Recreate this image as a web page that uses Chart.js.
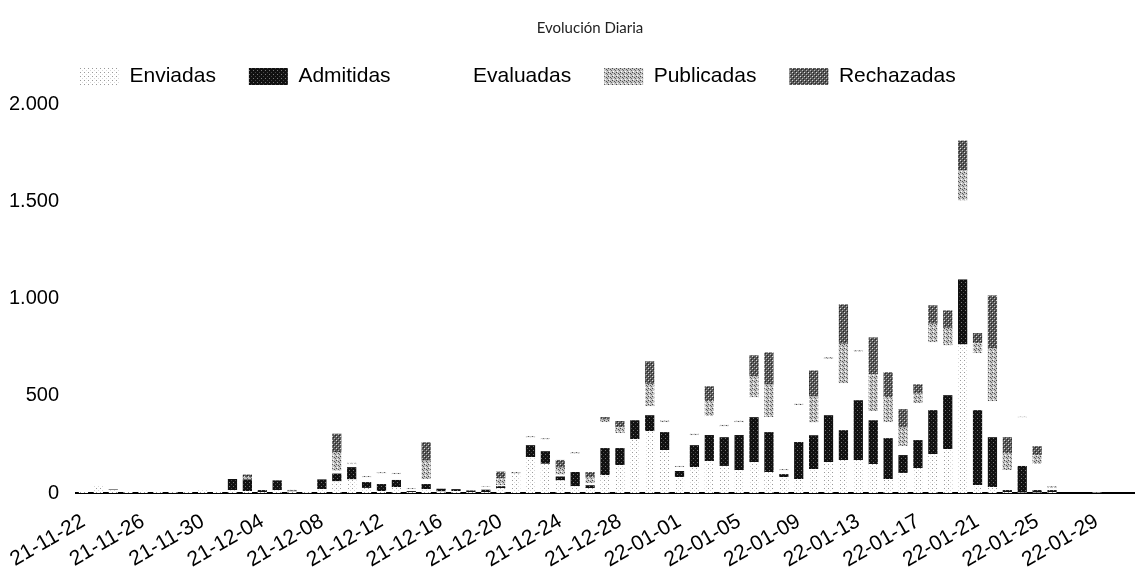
<!DOCTYPE html>
<html lang="es">
<head>
  <meta charset="UTF-8">
  <title>Evolución Diaria</title>
  <script src="https://cdn.jsdelivr.net/npm/chart.js"></script>
  <style>
    body { margin: 0; background: #fff; }
    .chart-box { width: 1138px; height: 569px; }
  </style>
</head>
<body>
  <div class="chart-box">
    <canvas id="evolucion"></canvas>
  </div>

  <script>
    // fechas (aa-mm-dd), del 21-11-22 al 22-01-31
    const dias = [
      '21-11-22','21-11-23','21-11-24','21-11-25','21-11-26','21-11-27','21-11-28','21-11-29','21-11-30',
      '21-12-01','21-12-02','21-12-03','21-12-04','21-12-05','21-12-06','21-12-07','21-12-08','21-12-09','21-12-10',
      '21-12-11','21-12-12','21-12-13','21-12-14','21-12-15','21-12-16','21-12-17','21-12-18','21-12-19','21-12-20',
      '21-12-21','21-12-22','21-12-23','21-12-24','21-12-25','21-12-26','21-12-27','21-12-28','21-12-29','21-12-30','21-12-31',
      '22-01-01','22-01-02','22-01-03','22-01-04','22-01-05','22-01-06','22-01-07','22-01-08','22-01-09','22-01-10',
      '22-01-11','22-01-12','22-01-13','22-01-14','22-01-15','22-01-16','22-01-17','22-01-18','22-01-19','22-01-20',
      '22-01-21','22-01-22','22-01-23','22-01-24','22-01-25','22-01-26','22-01-27','22-01-28','22-01-29','22-01-30','22-01-31'
    ];

    const enviadas = [
      10, 40, 15, 10, 12, 8, 5, 10, 15, 10,
      15, 10, 5, 15, 8, 5, 20, 60, 70, 26,
      10, 30, 5, 20, 8, 10, 5, 5, 25, 100,
      185, 150, 65, 35, 25, 92, 144, 277, 318, 221,
      82, 133, 164, 139, 118, 159, 108, 82, 72, 123,
      159, 169, 169, 149, 72, 103, 128, 200, 226, 764,
      41, 31, 5, 3, 3, 5, 0, 0, 3, 0, 0
    ];
    const admitidas = [
      0, 0, 3, 0, 0, 0, 0, 0, 0, 0,
      57, 60, 10, 50, 5, 0, 50, 40, 63, 30,
      36, 37, 5, 26, 14, 10, 8, 12, 10, 0,
      61, 65, 20, 73, 15, 139, 87, 97, 82, 92,
      31, 113, 134, 148, 180, 231, 205, 15, 190, 174,
      241, 154, 308, 225, 210, 92, 144, 226, 277, 334,
      385, 256, 10, 136, 12, 10, 0, 0, 0, 0, 0
    ];
    const evaluadas = [
      0, 0, 0, 0, 0, 0, 0, 0, 0, 0,
      0, 0, 0, 0, 0, 0, 0, 15, 15, 25,
      55, 30, 10, 25, 0, 0, 0, 15, 5, 0,
      40, 60, 10, 95, 10, 133, 77, 0, 46, 51,
      20, 51, 97, 56, 66, 102, 77, 20, 190, 66,
      290, 241, 249, 47, 82, 46, 190, 349, 256, 406,
      293, 185, 103, 250, 134, 10, 0, 0, 0, 0, 0
    ];
    const publicadas = [
      0, 0, 0, 0, 0, 0, 0, 0, 0, 0,
      0, 10, 0, 0, 3, 0, 0, 95, 7, 6,
      6, 6, 5, 95, 0, 0, 0, 4, 35, 8,
      6, 7, 35, 7, 30, 13, 30, 0, 115, 8,
      6, 7, 77, 7, 7, 108, 167, 6, 7, 133,
      8, 203, 8, 190, 128, 95, 49, 95, 90, 154,
      51, 272, 85, 3, 46, 10, 0, 0, 0, 0, 0
    ];
    const rechazadas = [
      0, 0, 0, 0, 0, 0, 0, 0, 0, 0,
      0, 15, 0, 0, 0, 0, 0, 95, 0, 0,
      0, 0, 0, 95, 0, 0, 0, 0, 35, 0,
      0, 0, 40, 0, 28, 13, 32, 0, 116, 0,
      0, 0, 77, 0, 0, 108, 166, 0, 0, 134,
      0, 203, 0, 189, 129, 95, 48, 95, 90, 154,
      52, 272, 84, 0, 46, 0, 0, 0, 0, 0, 0
    ];

    const yTicks = ['0', '500', '1.000', '1.500', '2.000'];

    // tramas tipo fotocopia para cada serie
    function trama(fondo, puntos) {
      const c = document.createElement('canvas');
      c.width = 4; c.height = 4;
      const g = c.getContext('2d');
      g.fillStyle = fondo;
      g.fillRect(0, 0, 4, 4);
      puntos.forEach(function(p) {
        g.fillStyle = p[2];
        g.fillRect(p[0], p[1], 1, 1);
      });
      return g.createPattern(c, 'repeat');
    }

    const ctx = document.getElementById('evolucion').getContext('2d');
    const colEnviadas = trama('#ffffff', [[0, 0, '#9a9a9a'], [2, 2, '#d8d8d8']]);
    const colAdmitidas = trama('#111111', [[1, 2, '#777777'], [3, 0, '#444444']]);
    const colPublicadas = trama('#c4c4c4', [[0, 0, '#444'], [2, 1, '#555'], [1, 3, '#fff'], [3, 2, '#666']]);
    const colRechazadas = trama('#5a5a5a', [[0, 0, '#ddd'], [2, 2, '#bbb'], [1, 1, '#222'], [3, 3, '#222']]);

    // leyenda a la izquierda y titulo algo desplazado, como en el original
    const ajustes = {
      id: 'ajustes',
      afterLayout(chart) {
        const lg = chart.legend;
        lg.left = 80 - chart.options.plugins.legend.labels.padding;
        lg.top -= 7;
        chart.titleBlock.left += 23;
        chart.titleBlock.right += 23;
      }
    };

    new Chart(ctx, {
      type: 'bar',
      data: {
        labels: dias,
        datasets: [
          { label: 'Enviadas', data: enviadas, backgroundColor: colEnviadas },
          { label: 'Admitidas', data: admitidas, backgroundColor: colAdmitidas },
          { label: 'Evaluadas', data: evaluadas, backgroundColor: '#ffffff' },
          { label: 'Publicadas', data: publicadas, backgroundColor: colPublicadas },
          { label: 'Rechazadas', data: rechazadas, backgroundColor: colRechazadas }
        ]
      },
      options: {
        responsive: true,
        maintainAspectRatio: false,
        animation: false,
        datasets: { bar: { categoryPercentage: 1, barPercentage: 0.62, borderWidth: 0 } },
        layout: { padding: { left: 0, right: 4, top: 0, bottom: 0 } },
        plugins: {
          title: {
            display: true,
            text: 'Evolución Diaria',
            color: '#222',
            font: { family: 'Lato', size: 15, weight: 'normal' },
            padding: { top: 19, bottom: 3 }
          },
          legend: {
            display: true,
            align: 'start',
            labels: {
              color: '#000',
              font: { family: 'Liberation Sans', size: 21 },
              boxWidth: 39,
              boxHeight: 17,
              padding: 33
            }
          },
          tooltip: { enabled: false }
        },
        scales: {
          x: {
            stacked: true,
            grid: { display: false, drawTicks: false },
            border: { display: true, color: '#000', width: 2 },
            afterFit: function(s) { s.paddingLeft = 0; s.paddingRight = 0; s.height = 76; },
            ticks: {
              autoSkip: false,
              maxRotation: 30,
              minRotation: 30,
              padding: 16,
              color: '#000',
              font: { family: 'Liberation Sans', size: 21 },
              callback: function(v, i) { return i % 4 === 0 ? dias[i] : ''; }
            }
          },
          y: {
            stacked: true,
            min: 0,
            max: 2000,
            grid: { display: false, drawTicks: false },
            border: { display: false },
            afterFit: function(s) { s.width = 76; },
            ticks: {
              stepSize: 500,
              padding: 17,
              color: '#000',
              font: { family: 'Liberation Sans', size: 20 },
              callback: function(v, i) { return yTicks[i]; }
            }
          }
        }
      },
      plugins: [ajustes]
    });
  </script>
</body>
</html>
